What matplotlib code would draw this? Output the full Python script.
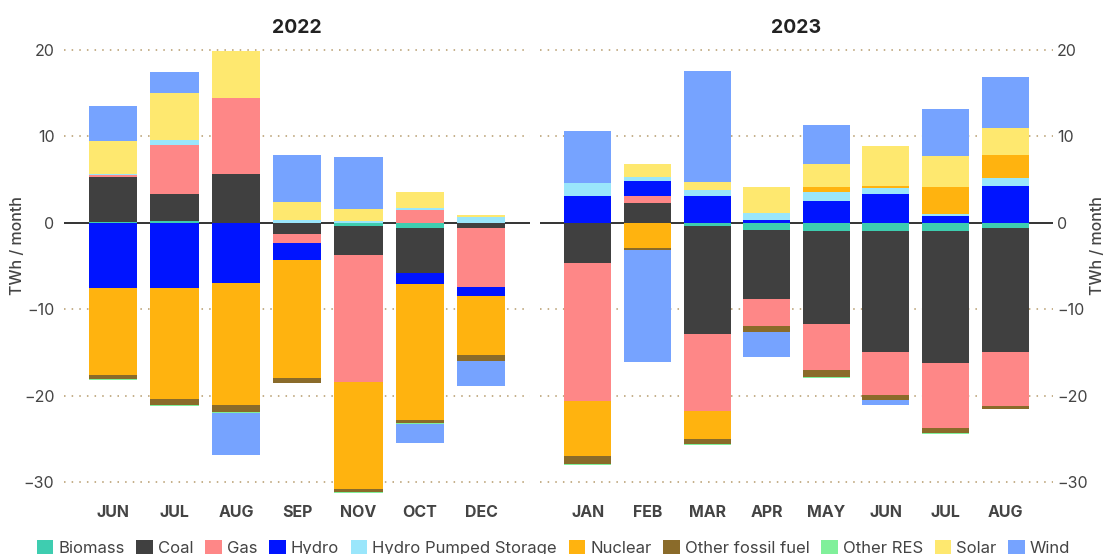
import numpy as np
import matplotlib.pyplot as plt

plt.rcParams['font.family'] = ['Inter', 'DejaVu Sans']

sources = ["Biomass", "Coal", "Gas", "Hydro", "Hydro Pumped Storage", "Nuclear",
           "Other fossil fuel", "Other RES", "Solar", "Wind"]
colors = ["#3ecdb0", "#404040", "#fe8787", "#0014ff", "#9ae6fb", "#ffb30f",
          "#8a6b2a", "#80f09a", "#fee86f", "#76a3ff"]

# 2022 (TWh / month)
months_2022 = ["JUN", "JUL", "AUG", "SEP", "NOV", "OCT", "DEC"]
biomass_2022 = [0.1, 0.23, 0, 0, -0.38, -0.6, 0]
coal_2022 = [5.2, 3.07, 5.6, -1.3, -3.35, -5.2, -0.6]
gas_2022 = [0.15, 5.67, 8.8, -1.04, -14.7, 1.45, -6.8]
hydro_2022 = [-7.5, -7.55, -6.96, -1.96, 0, -1.27, -1.04]
hps_2022 = [0.2, 0.58, 0, 0.25, 0.2, 0.25, 0.66]
nuclear_2022 = [-10.05, -12.8, -14.1, -13.6, -12.35, -15.7, -6.8]
ofossil_2022 = [-0.46, -0.75, -0.8, -0.58, -0.3, -0.35, -0.7]
ores_2022 = [-0.12, -0.12, -0.12, -0.1, -0.1, -0.1, 0]
solar_2022 = [3.77, 5.43, 5.43, 2.1, 1.38, 1.85, 0.23]
wind_2022 = [4.04, 2.42, -4.85, 5.43, 6.0, -2.2, -2.9]

# 2023 (TWh / month)
months_2023 = ["JAN", "FEB", "MAR", "APR", "MAY", "JUN", "JUL", "AUG"]
biomass_2023 = [0, 0, -0.38, -0.8, -0.92, -0.92, -0.92, -0.58]
coal_2023 = [-4.65, 2.3, -12.47, -7.97, -10.8, -14.0, -15.3, -14.4]
gas_2023 = [-15.9, 0.78, -8.9, -3.13, -5.3, -4.95, -7.5, -6.25]
hydro_2023 = [3.08, 1.74, 3.08, 0.35, 2.54, 3.3, 0.8, 4.27]
hps_2023 = [1.5, 0.46, 0.7, 0.8, 1.04, 0.7, 0.23, 0.92]
nuclear_2023 = [-6.45, -2.92, -3.23, 0, 0.57, 0.23, 3.12, 2.66]
ofossil_2023 = [-0.85, -0.23, -0.57, -0.7, -0.8, -0.6, -0.6, -0.25]
ores_2023 = [-0.1, 0, -0.1, 0, -0.1, -0.05, -0.1, -0.08]
solar_2023 = [-0.1, 1.5, 0.88, 3.0, 2.65, 4.62, 3.57, 3.1]
wind_2023 = [6.0, -12.95, 12.85, -2.9, 4.5, -0.55, 5.43, 5.9]

data_2022 = [biomass_2022, coal_2022, gas_2022, hydro_2022, hps_2022, nuclear_2022,
             ofossil_2022, ores_2022, solar_2022, wind_2022]
data_2023 = [biomass_2023, coal_2023, gas_2023, hydro_2023, hps_2023, nuclear_2023,
             ofossil_2023, ores_2023, solar_2023, wind_2023]

text_col = "#444444"
grid_col = "#b59a6a"


def draw_year(ax, months, data, title, side):
    x = np.arange(len(months))
    pos = np.zeros(len(months))
    neg = np.zeros(len(months))
    for name, col, vals in zip(sources, colors, data):
        v = np.array(vals, dtype=float)
        p = np.where(v > 0, v, 0)
        n = np.where(v < 0, v, 0)
        ax.bar(x, p, 0.79, bottom=pos, color=col, label=name, zorder=3)
        ax.bar(x, n, 0.79, bottom=neg, color=col, zorder=3)
        pos += p
        neg += n
    ax.set_xlim(-0.8, len(months) - 0.2)
    ax.set_ylim(-31.5, 21.5)
    ax.set_yticks([20, 10, 0, -10, -20, -30])
    for yv in [20, 10, -10, -20, -30]:
        ax.axhline(yv, color=grid_col, linestyle=(0, (1, 4)), linewidth=1.1, zorder=1)
    ax.axhline(0, color="#111111", linewidth=1.2, zorder=2)
    ax.set_xticks(x)
    ax.set_xticklabels(months, fontsize=11.5, fontweight="bold", color=text_col)
    ax.tick_params(axis="x", length=0, pad=7)
    for s in ax.spines.values():
        s.set_visible(False)
    ax.set_title(title, fontsize=14, fontweight="bold", color="#222222", pad=2)
    if side == "right":
        ax.yaxis.tick_right()
        ax.tick_params(axis="y", length=0, labelsize=11.5, labelcolor=text_col, pad=3)
    else:
        ax.tick_params(axis="y", length=0, labelsize=11.5, labelcolor=text_col, pad=7)


fig = plt.figure(figsize=(11.07, 5.54), dpi=100)
ax1 = fig.add_axes([0.058, 0.106, 0.421, 0.828])
ax2 = fig.add_axes([0.488, 0.106, 0.463, 0.828])

draw_year(ax1, months_2022, data_2022, "2022", "left")
draw_year(ax2, months_2023, data_2023, "2023", "right")

fig.text(18 / 1107, 1 - 246 / 554, "TWh / month", rotation=90, ha="center", va="center",
         fontsize=11.5, color=text_col, fontweight="medium")
fig.text(1097 / 1107, 1 - 246 / 554, "TWh / month", rotation=90, ha="center", va="center",
         fontsize=11.5, color=text_col, fontweight="medium")

handles, labels = ax1.get_legend_handles_labels()
fig.legend(handles, labels, loc="center", bbox_to_anchor=(0.5, 1 - 548 / 554),
           ncol=10, frameon=False, fontsize=12, handlelength=1.0, handleheight=1.0,
           handletextpad=0.3, columnspacing=0.7, labelcolor=text_col)

fig.savefig("out.png", dpi=100)
